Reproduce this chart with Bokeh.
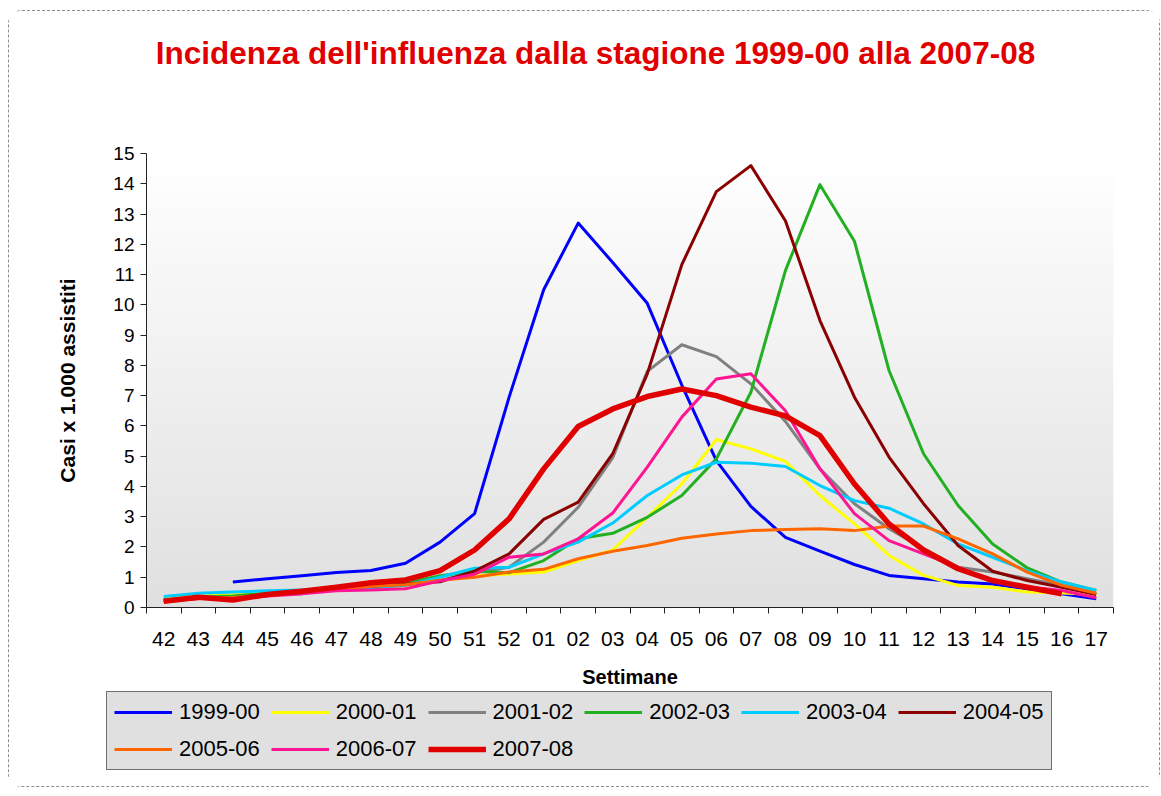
import numpy as np
from bokeh.plotting import figure
from bokeh.layouts import column
from bokeh.models import (Range1d, FixedTicker, Legend, LegendItem, ColumnDataSource, Label)
from bokeh.embed import file_html
from bokeh.resources import INLINE

nan = float("nan")

weeks = ["42", "43", "44", "45", "46", "47", "48", "49", "50", "51", "52",
         "01", "02", "03", "04", "05", "06", "07", "08", "09", "10",
         "11", "12", "13", "14", "15", "16", "17"]

seasons = ["1999-00", "2000-01", "2001-02", "2002-03", "2003-04",
           "2004-05", "2005-06", "2006-07", "2007-08"]

s1999_00 = [nan, nan, 0.84, 0.95, 1.05, 1.16, 1.22, 1.46, 2.16, 3.1, 6.95,
            10.5, 12.7, 11.4, 10.05, 7.35, 4.85, 3.34, 2.32, 1.86, 1.42,
            1.06, 0.95, 0.84, 0.78, 0.62, 0.45, 0.29]
s2000_01 = [0.3, 0.38, 0.42, 0.5, 0.55, 0.6, 0.65, 0.72, 0.9, 1.05, 1.11,
            1.17, 1.55, 1.9, 2.98, 4.08, 5.55, 5.24, 4.83, 3.7, 2.76,
            1.72, 1.06, 0.73, 0.67, 0.51, 0.48, 0.43]
s2001_02 = [0.25, 0.32, 0.35, 0.42, 0.5, 0.6, 0.65, 0.75, 0.9, 1.15, 1.33,
            2.16, 3.31, 4.95, 7.8, 8.68, 8.29, 7.39, 6.15, 4.58, 3.43,
            2.6, 1.94, 1.33, 1.17, 0.95, 0.73, 0.46]
s2002_03 = [0.25, 0.35, 0.38, 0.48, 0.55, 0.62, 0.7, 0.8, 1.05, 1.2, 1.15,
            1.55, 2.27, 2.45, 2.98, 3.7, 4.91, 7.11, 11.13, 13.97, 12.1,
            7.83, 5.08, 3.37, 2.1, 1.31, 0.84, 0.56]
s2003_04 = [0.36, 0.47, 0.51, 0.55, 0.58, 0.62, 0.66, 0.73, 1.0, 1.3, 1.33,
            1.77, 2.16, 2.79, 3.7, 4.38, 4.8, 4.77, 4.66, 4.03, 3.53,
            3.28, 2.76, 2.1, 1.66, 1.22, 0.84, 0.56]
s2004_05 = [0.22, 0.3, 0.3, 0.4, 0.5, 0.6, 0.7, 0.78, 0.85, 1.2, 1.77,
            2.91, 3.48, 5.08, 7.72, 11.33, 13.74, 14.6, 12.78, 9.48, 6.95,
            4.97, 3.43, 2.05, 1.2, 0.89, 0.67, 0.43]
s2005_06 = [0.2, 0.3, 0.33, 0.4, 0.48, 0.58, 0.7, 0.75, 0.9, 1.0, 1.17,
            1.26, 1.61, 1.86, 2.05, 2.29, 2.43, 2.54, 2.58, 2.6, 2.54,
            2.69, 2.69, 2.27, 1.77, 1.17, 0.73, 0.47]
s2006_07 = [0.2, 0.3, 0.3, 0.38, 0.45, 0.55, 0.58, 0.62, 0.88, 1.1, 1.66,
            1.77, 2.27, 3.12, 4.64, 6.29, 7.55, 7.72, 6.5, 4.58, 3.1,
            2.21, 1.77, 1.33, 0.89, 0.69, 0.56, 0.32]
s2007_08 = [0.21, 0.34, 0.25, 0.43, 0.54, 0.67, 0.82, 0.91, 1.22, 1.9, 2.93,
            4.58, 5.98, 6.56, 6.97, 7.22, 7.0, 6.62, 6.33, 5.68, 4.08,
            2.76, 1.9, 1.28, 0.89, 0.67, 0.45, nan]

series = [s1999_00, s2000_01, s2001_02, s2002_03, s2003_04,
          s2004_05, s2005_06, s2006_07, s2007_08]
colors = ["#0000FF", "#FFFF00", "#808080", "#22B022", "#00CCFF",
          "#8B0000", "#FF6600", "#FF1493", "#E00000"]
widths = [3, 3, 3, 3, 3, 3, 3, 3, 5.5]

TITLE = "Incidenza dell'influenza dalla stagione 1999-00 alla 2007-08"
FONT = "Liberation Sans"
W = 1150
n = len(weeks)
xs = list(range(n))


def blank(h):
    f = figure(width=W, height=h, output_backend="svg", toolbar_location=None,
               x_axis_location=None, y_axis_location=None,
               x_range=Range1d(0, 1), y_range=Range1d(0, 1),
               min_border=0, min_border_left=0, min_border_right=0,
               min_border_top=0, min_border_bottom=0, frame_align=False)
    f.outline_line_color = None
    f.xgrid.visible = False
    f.ygrid.visible = False
    f.background_fill_color = "#FFFFFF"
    f.border_fill_color = "#FFFFFF"
    return f


# ---- header with title ----
head = blank(100)
head.add_layout(Label(x=586, y=59, x_units="screen", y_units="screen", text=TITLE,
                      text_align="center", text_baseline="middle",
                      text_color="#E00000", text_font=FONT, text_font_style="bold",
                      text_font_size="31.5px"))

# ---- main chart ----
p = figure(width=W, height=579, output_backend="svg", toolbar_location=None,
           x_range=Range1d(-0.5, n - 0.5), y_range=Range1d(0, 15),
           min_border_left=137, min_border_right=46, min_border_top=42,
           min_border_bottom=83, frame_align=False)
p.outline_line_color = None
p.background_fill_color = "#FFFFFF"
p.border_fill_color = "#FFFFFF"
p.xgrid.visible = False
p.ygrid.visible = False

# gradient plot-area background
N = 200
grad = np.zeros((N, 1), dtype=np.uint32)
view = grad.view(dtype=np.uint8).reshape((N, 1, 4))
for i in range(N):
    t = i / (N - 1)  # 0 bottom, 1 top
    c = int(round(0xE0 + (0xFF - 0xE0) * t))
    view[i, 0, :] = [c, c, c, 255]
p.image_rgba(image=[grad], x=-0.5, y=0, dw=n, dh=15)

xa = p.xaxis[0]
xa.ticker = FixedTicker(ticks=xs, minor_ticks=[i - 0.5 for i in range(n + 1)])
xa.major_label_overrides = {i: w for i, w in enumerate(weeks)}
xa.major_tick_out = 0
xa.major_tick_in = 0
xa.minor_tick_out = 6
xa.minor_tick_in = 0
xa.minor_tick_line_color = "#222222"
xa.axis_line_color = "#222222"
xa.major_label_text_font = FONT
xa.major_label_text_font_size = "21px"
xa.major_label_text_color = "#000000"
xa.major_label_standoff = 18
xa.axis_label = "Settimane"
xa.axis_label_text_font = FONT
xa.axis_label_text_font_style = "bold"
xa.axis_label_text_font_size = "20px"
xa.axis_label_text_color = "#000000"
xa.axis_label_standoff = 17

ya = p.yaxis[0]
ya.ticker = FixedTicker(ticks=list(range(16)), minor_ticks=[])
ya.major_tick_out = 6
ya.major_tick_in = 0
ya.major_tick_line_color = "#222222"
ya.axis_line_color = "#222222"
ya.major_label_text_font = FONT
ya.major_label_text_font_size = "19px"
ya.major_label_text_color = "#000000"
ya.major_label_standoff = 6
ya.axis_label = "Casi x 1.000 assistiti"
ya.axis_label_text_font = FONT
ya.axis_label_text_font_style = "bold"
ya.axis_label_text_font_size = "21px"
ya.axis_label_text_color = "#000000"
ya.axis_label_standoff = 31

for vals, col, w in zip(series, colors, widths):
    src = ColumnDataSource(dict(x=xs, y=np.array(vals, dtype=float)))
    p.line("x", "y", source=src, line_color=col, line_width=w, line_join="round")

# ---- legend strip ----
leg = blank(96)
items = []
for name, col, w in zip(seasons, colors, widths):
    # off-screen proxy renderers, only used for the legend swatches
    r = leg.line(x=[-10, -9], y=[-10, -10], line_color=col, line_width=w)
    items.append(LegendItem(label=name, renderers=[r]))

legend = Legend(items=items, location=(97, 16), orientation="horizontal", ncols=6)
legend.background_fill_color = "#E0E0E0"
legend.background_fill_alpha = 1.0
legend.border_line_color = "#000000"
legend.border_line_width = 1.5
legend.label_text_font = FONT
legend.label_text_font_size = "22px"
legend.label_text_color = "#000000"
legend.glyph_width = 58
legend.glyph_height = 26
legend.label_height = 26
legend.label_standoff = 7
legend.spacing = 11
legend.padding = 7
legend.margin = 0
leg.add_layout(legend, "center")

page = column(head, p, leg, spacing=0)
page.styles = {"border": "1px dashed #8c8c8c", "border-radius": "14px",
               "margin": "10px 0px 0px 8px"}

open("out.html", "w").write(file_html(page, INLINE))
